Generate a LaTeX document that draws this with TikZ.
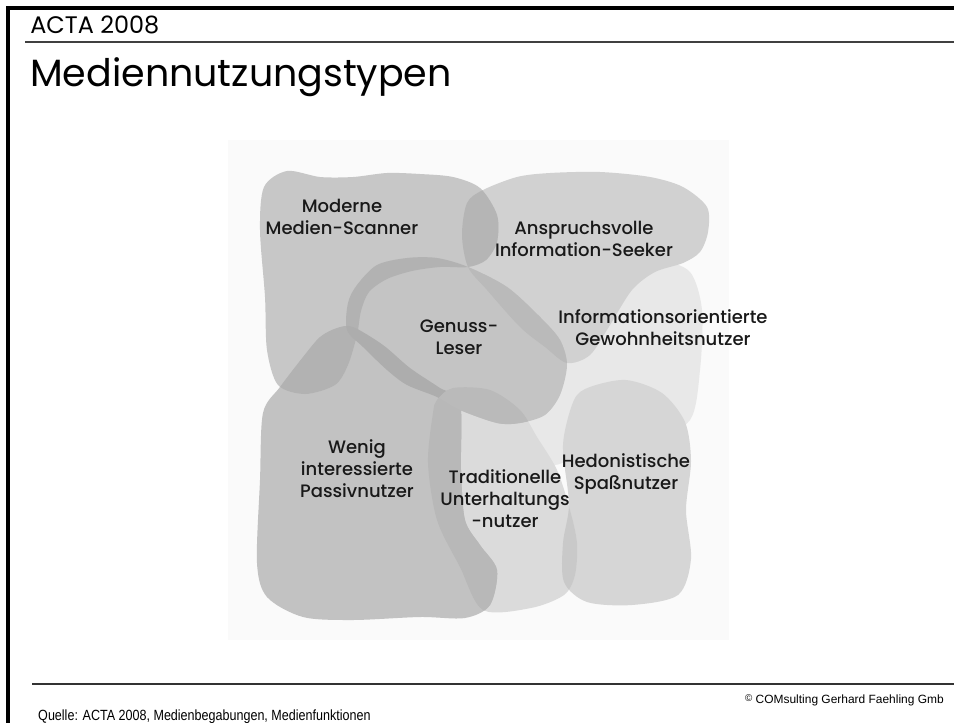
\documentclass[tikz,border=0pt]{standalone}
\usepackage{fontspec}
\setmainfont{Poppins}
\newfontfamily\labelfont{Poppins Medium}
\newfontfamily\footfont{Liberation Sans}

% outlines of the seven user groups (pixel units)
\def\blobScanner{plot[smooth cycle] coordinates {(287,171) (320,177) (353,177) (387,173) (420,174) (453,177) (480,188) (497,215) (497,242) (486,260) (468,267) (440,267) (412,271) (387,279) (369,292) (361,311) (357,335) (348,365) (335,385) (305,394) (278,385) (267,350) (265,297) (260,230) (264,187)}}
\def\blobSeeker{plot[smooth cycle] coordinates {(467,203) (483,190) (517,177) (550,173) (600,172) (650,177) (683,187) (707,207) (708,232) (700,252) (683,263) (655,272) (632,290) (610,325) (590,355) (567,363) (545,347) (520,327) (487,290) (468,267) (462,235)}}
\def\blobGenuss{plot[smooth cycle] coordinates {(347,330) (348,303) (357,285) (377,265) (407,258) (437,258) (468,267) (507,287) (540,317) (560,340) (567,365) (560,395) (545,415) (520,423) (497,423) (460,410) (437,397) (407,385) (387,370) (363,347)}}
\def\blobPassiv{plot[smooth cycle] coordinates {(353,327) (383,345) (410,368) (440,388) (460,402) (461,470) (465,520) (480,545) (497,570) (490,605) (465,618) (420,617) (353,620) (303,617) (267,597) (257,563) (260,480) (263,413) (280,387) (303,357) (320,337) (337,328)}}
\def\blobTradition{plot[smooth cycle] coordinates {(437,400) (453,388) (490,390) (520,410) (537,437) (557,470) (570,510) (577,543) (575,575) (564,595) (531,608) (483,610) (460,567) (437,520) (428,463) (433,413)}}
\def\blobHedonist{plot[smooth cycle] coordinates {(574,400) (590,387) (626,380) (662,393) (685,422) (691,461) (686,510) (691,559) (678,595) (632,605) (587,602) (564,582) (563,543) (569,504) (563,445)}}
\def\blobGewohnheit{plot[smooth cycle] coordinates {(540,390) (560,355) (590,310) (625,278) (660,262) (690,272) (702,310) (700,370) (690,420) (650,440) (590,450) (555,465) (530,452) (522,425)}}

% darker fill where two groups overlap
\newcommand{\overlap}[3]{\begin{scope}\clip #1; \fill[#3] #2;\end{scope}}

\begin{document}
\begin{tikzpicture}[x=0.025cm, y=-0.025cm,
  grouplabel/.style={font=\labelfont\fontsize{12.8}{15.6}\selectfont, align=center, text=black!90, inner sep=0pt}]
  \useasboundingbox (0,0) rectangle (954,723);

  % Frame of the slide
  \draw[line width=2.2pt] (8,723) -- (8,8) -- (954,8);
  \draw[line width=1pt, black!75] (25,42) -- (954,42);
  \draw[line width=1pt, black!80] (32,684) -- (954,684);

  % Heading
  \node[anchor=base west, inner sep=0pt, font=\fontsize{17}{20}\selectfont] (acta) at (30,33) {ACTA 2008};
  \node[anchor=base west, inner sep=0pt, font=\fontsize{27}{32}\selectfont] (title) at (30,86) {Mediennutzungstypen};

  % Light square behind the groups
  \fill[black!2] (228,140) rectangle (729,640);

  % The groups
  \fill[black!9]  \blobGewohnheit;
  \fill[black!16] \blobHedonist;
  \fill[black!14] \blobTradition;
  \fill[black!18] \blobSeeker;
  \fill[black!24] \blobPassiv;
  \fill[black!22] \blobScanner;
  \fill[black!23] \blobGenuss;

  % Overlaps
  \overlap{\blobScanner}{\blobSeeker}{black!29}
  \overlap{\blobScanner}{\blobGenuss}{black!30}
  \overlap{\blobSeeker}{\blobGenuss}{black!27}
  \overlap{\blobScanner}{\blobPassiv}{black!30}
  \overlap{\blobPassiv}{\blobGenuss}{black!32}
  \overlap{\blobPassiv}{\blobTradition}{black!28}
  \overlap{\blobTradition}{\blobGenuss}{black!27}
  \overlap{\blobTradition}{\blobHedonist}{black!21}

  % Labels
  \node[grouplabel] (scanner) at (342,217) {Moderne\\Medien-Scanner};
  \node[grouplabel] (seeker) at (584,239) {Anspruchsvolle\\Information-Seeker};
  \node[grouplabel] (genuss) at (459,337) {Genuss-\\Leser};
  \node[grouplabel] (gewohnheit) at (663,328) {Informationsorientierte\\Gewohnheitsnutzer};
  \node[grouplabel] (passiv) at (357,469) {Wenig\\interessierte\\Passivnutzer};
  \node[grouplabel] (tradition) at (505,499) {Traditionelle\\Unterhaltungs\\-nutzer};
  \node[grouplabel] (hedonist) at (626,474) {Hedonistische\\Spaßnutzer};

  % Footer
  \node[anchor=base west, inner sep=0pt, font=\footfont\fontsize{10.5}{12}\selectfont, xscale=0.85] (quelle) at (38,720) {Quelle: ACTA 2008, Medienbegabungen, Medienfunktionen};
  \node[anchor=base east, inner sep=0pt, font=\footfont\fontsize{8.5}{10}\selectfont] (copyright) at (944,703) {\raisebox{0.3ex}{\scriptsize©} COMsulting Gerhard Faehling Gmb};
\end{tikzpicture}
\end{document}
